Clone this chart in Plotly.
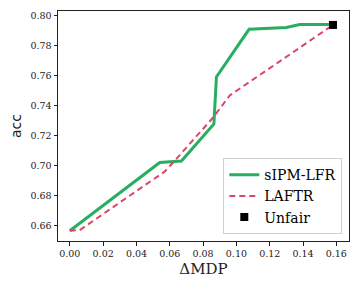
import plotly.graph_objects as go

sipm_x = [0.0, 0.054, 0.067, 0.0865, 0.088, 0.1076, 0.130, 0.138, 0.158]
sipm_y = [0.6565, 0.7020, 0.7030, 0.7277, 0.7590, 0.7908, 0.7920, 0.7940, 0.7940]

laftr_x = [0.0, 0.006, 0.057, 0.062, 0.086, 0.096, 0.158]
laftr_y = [0.6565, 0.6570, 0.6960, 0.7020, 0.7320, 0.7467, 0.7937]

unfair_x = [0.158]
unfair_y = [0.7937]

xticks = [0.00, 0.02, 0.04, 0.06, 0.08, 0.10, 0.12, 0.14, 0.16]
yticks = [0.66, 0.68, 0.70, 0.72, 0.74, 0.76, 0.78, 0.80]

SERIF = "DejaVu Serif, Liberation Serif, serif"

fig = go.Figure()
fig.add_trace(go.Scatter(x=sipm_x, y=sipm_y, mode="lines", name="sIPM-LFR",
                         line=dict(color="#27ae60", width=3)))
fig.add_trace(go.Scatter(x=laftr_x, y=laftr_y, mode="lines", name="LAFTR",
                         line=dict(color="#dc4563", width=2, dash="6px,4px")))
fig.add_trace(go.Scatter(x=unfair_x, y=unfair_y, mode="markers", name="Unfair",
                         marker=dict(color="black", symbol="square", size=8)))

fig.update_layout(
    width=360, height=288,
    margin=dict(l=58, r=11, t=11, b=47, autoexpand=False),
    plot_bgcolor="white", paper_bgcolor="white",
    showlegend=True,
    legend=dict(x=0.977, y=0.03, xanchor="right", yanchor="bottom",
                bgcolor="rgba(255,255,255,0.8)", bordercolor="#d0d0d0", borderwidth=1,
                font=dict(family=SERIF, size=14, color="black"),
                tracegroupgap=0, itemwidth=30),
)
fig.update_xaxes(range=[-0.0071, 0.1676], tickvals=xticks,
                 ticktext=[f"{v:.2f}" for v in xticks], automargin=True,
                 showgrid=False, zeroline=False, showline=True, linecolor="#222",
                 linewidth=1, mirror=True, ticks="outside", ticklen=3.5,
                 tickcolor="#222", tickfont=dict(family=SERIF, size=9.5, color="#222"),
                 title=dict(text="ΔMDP", font=dict(family=SERIF, size=15, color="#222"),
                            standoff=5))
fig.update_yaxes(range=[0.6497, 0.803], tickvals=yticks,
                 ticktext=[f"{v:.2f}" for v in yticks], automargin=True,
                 showgrid=False, zeroline=False, showline=True, linecolor="#222",
                 linewidth=1, mirror=True, ticks="outside", ticklen=3.5,
                 tickcolor="#222", tickfont=dict(family=SERIF, size=9.5, color="#222"),
                 title=dict(text="acc", font=dict(family="DejaVu Sans", size=14, color="#222"),
                            standoff=5))

fig.write_html("out.html", config={"displayModeBar": False},
               post_script="document.body.style.margin='0';document.body.style.overflow='hidden';")
